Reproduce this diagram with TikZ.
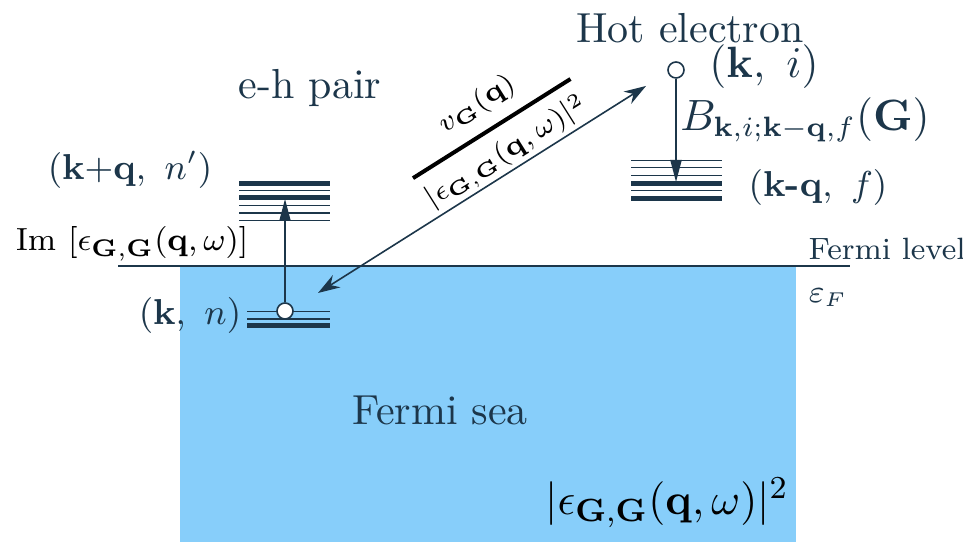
\documentclass[tikz,border=0pt]{standalone}
\usepackage{amsmath}
\usetikzlibrary{arrows.meta}
\definecolor{ink}{RGB}{28,54,74}
\definecolor{sea}{RGB}{135,206,250}
\begin{document}
\begin{tikzpicture}[x=0.25pt,y=-0.25pt,
  lbl/.style={text=ink,inner sep=0pt},
  big/.style={lbl,font=\fontsize{10.5}{12}\selectfont},
  mid/.style={lbl,font=\fontsize{9.0}{11}\selectfont},
  thinlev/.style={draw=ink,line width=0.4pt},
  medlev/.style={draw=ink,line width=0.7pt},
  thicklev/.style={draw=ink,line width=1.25pt},
  state/.style={circle,draw=ink,fill=white,line width=0.4pt,inner sep=0pt,minimum size=4pt},
  vtrans/.style={draw=ink,line width=0.4pt,-{Triangle[length=5.5pt,width=2.8pt]}},
  dtrans/.style={draw=ink,line width=0.4pt,{Stealth[length=5.5pt,width=3.6pt]}-{Stealth[length=5.5pt,width=3.6pt]}}]
\useasboundingbox (0,0) rectangle (963,542);
% Fermi sea
\fill[sea] (180,266) rectangle (796,542);
\draw[ink,line width=0.45pt] (118,266) -- (850,266);
% upper stack (k+q, n')
\draw[thicklev] (239,183.3) -- (330,183.3);
\draw[thinlev] (239,190.7) -- (330,190.7);
\draw[thicklev] (239,198) -- (330,198);
\draw[thinlev] (239,205.7) -- (330,205.7);
\draw[thinlev] (239,213) -- (330,213);
\draw[thinlev] (239,220.7) -- (330,220.7);
% lower stack (k, n)
\draw[thinlev] (247,311.7) -- (330,311.7);
\draw[medlev] (247,319) -- (330,319);
\draw[thicklev] (247,326) -- (330,326);
% right stack (k-q, f)
\draw[thinlev] (631,160.7) -- (722,160.7);
\draw[thinlev] (631,167.7) -- (722,167.7);
\draw[thinlev] (631,175.7) -- (722,175.7);
\draw[thicklev] (631,183.3) -- (722,183.3);
\draw[thinlev] (631,190.7) -- (722,190.7);
\draw[thicklev] (631,198.3) -- (722,198.3);
% states
\node[state] (hole) at (285,311) {};
\node[state] (hot) at (676,70) {};
\coordinate (eup) at (285,199);
\coordinate (fdown) at (676,182);
\coordinate (d1) at (318,293);
\coordinate (d2) at (646,86);
\draw[vtrans] (hole) -- (eup);
\draw[vtrans] (hot) -- (fdown);
\draw[dtrans] (d1) -- (d2);
% labels
\node[big] (hotlbl) at (690,28) {Hot electron};
\node[big] (ehlbl) at (310,88) {e-h pair};
\node[big] (sealbl) at (440,410) {Fermi sea};
\node[lbl,font=\fontsize{7.7}{9}\selectfont] (flvl) at (887,249) {Fermi level};
\node[lbl,font=\fontsize{7.7}{9}\selectfont] (eF) at (828,298) {$\varepsilon_F$};
\node[mid] (kqn) at (130,170) {$(\mathbf{k}{+}\mathbf{q},\ n')$};
\node[mid] (kn) at (190,316) {$(\mathbf{k},\ n)$};
\node[big] (ki) at (764,67) {$(\mathbf{k},\ i)$};
\node[mid] (kqf) at (818,188) {$(\mathbf{k}\textbf{-}\mathbf{q},\ f)$};
\node[lbl,font=\fontsize{10.6}{13}\selectfont] (B) at (805,120) {$B_{\mathbf{k},i;\mathbf{k}-\mathbf{q},f}(\mathbf{G})$};
\node[lbl,font=\fontsize{8.4}{10}\selectfont,text=black] (im) at (132,244) {$\mathrm{Im}\ [\epsilon_{\mathbf{G},\mathbf{G}}(\mathbf{q},\omega)]$};
\node[lbl,font=\fontsize{11}{13}\selectfont,text=black] (eps) at (667,503) {$|\epsilon_{\mathbf{G},\mathbf{G}}(\mathbf{q},\omega)|^2$};
\node[lbl,font=\fontsize{7}{9}\selectfont,text=black,rotate=32.2] (frac) at (492,129) {$\genfrac{}{}{1pt}{0}{v_{\mathbf{G}}(\mathbf{q})}{|\epsilon_{\mathbf{G},\mathbf{G}}(\mathbf{q},\omega)|^2}$};
\end{tikzpicture}
\end{document}
